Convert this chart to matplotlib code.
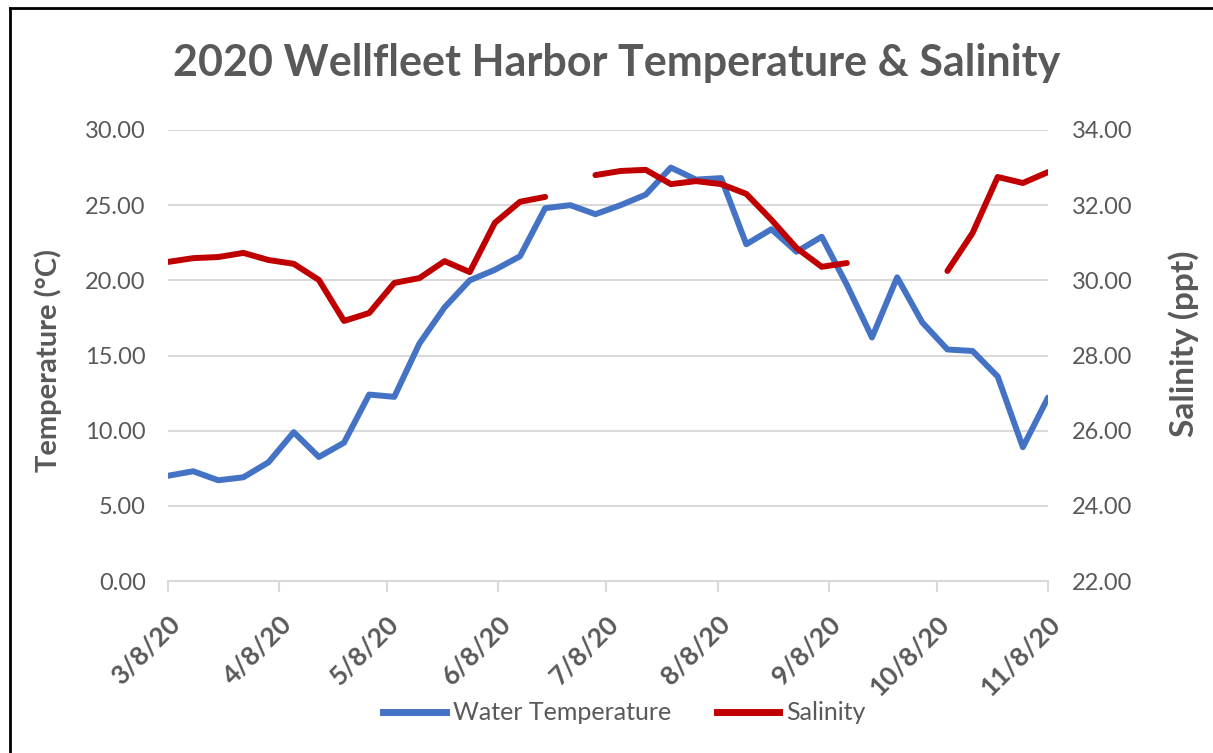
import matplotlib.pyplot as plt
import matplotlib.dates as mdates
from matplotlib.lines import Line2D
from matplotlib.ticker import FormatStrFormatter, MultipleLocator
import matplotlib.transforms as mtransforms
import numpy as np
import pandas as pd

plt.rcParams['font.family'] = ['Lato', 'DejaVu Sans']

dates = pd.date_range('2020-03-08', '2020-11-08', freq='7D')

water_temp = [7.0, 7.3, 6.7, 6.9, 7.9, 9.9, 8.25, 9.2, 12.4, 12.25,
              15.8, 18.2, 20.0, 20.7, 21.6, 24.8, 25.0, 24.4, 25.0, 25.7,
              27.5, 26.7, 26.8, 22.4, 23.4, 21.9, 22.9, 19.7, 16.2, 20.2,
              17.2, 15.4, 15.3, 13.6, 8.9, 12.2]

salinity = [30.49, 30.59, 30.62, 30.73, 30.54, 30.44, 30.01, 28.92, 29.13, 29.93,
            30.06, 30.51, 30.22, 31.53, 32.09, 32.22, np.nan, 32.80, 32.91, 32.94,
            32.56, 32.64, 32.56, 32.30, 31.61, 30.86, 30.36, 30.46, np.nan, np.nan,
            np.nan, 30.25, 31.26, 32.75, 32.59, 32.88]

month_ticks = pd.date_range('2020-03-08', periods=9, freq=pd.DateOffset(months=1))

gray = '#595959'
blue = '#4472C4'
red = '#C00000'

fig = plt.figure(figsize=(12.13, 7.53), dpi=100)
ax = fig.add_axes([168 / 1213, 1 - 581 / 753, 880 / 1213, 451 / 753])
ax2 = ax.twinx()

ax.plot(dates, water_temp, color=blue, lw=4.3, solid_capstyle='round', label='Water Temperature')
ax2.plot(dates, salinity, color=red, lw=4.3, solid_capstyle='round', label='Salinity')

ax.set_xlim(dates[0], dates[-1])
ax.set_ylim(0, 30)
ax2.set_ylim(22, 34)
ax.yaxis.set_major_locator(MultipleLocator(5))
ax2.yaxis.set_major_locator(MultipleLocator(2))
ax.yaxis.set_major_formatter(FormatStrFormatter('%.2f'))
ax2.yaxis.set_major_formatter(FormatStrFormatter('%.2f'))

ax.set_xticks(month_ticks)
ax.xaxis.set_major_formatter(mdates.DateFormatter('%-m/%-d/%y'))
shift = mtransforms.ScaledTranslation(8 / 100, 0, fig.dpi_scale_trans)
for lbl in ax.get_xticklabels():
    lbl.set_rotation(45)
    lbl.set_ha('right')
    lbl.set_rotation_mode('anchor')
    lbl.set_fontweight('bold')
    lbl.set_transform(lbl.get_transform() + shift)

ax.grid(axis='y', color='#d9d9d9', lw=1.5)
ax.set_axisbelow(True)
for a in (ax, ax2):
    for s in a.spines.values():
        s.set_visible(False)
ax.spines['bottom'].set_visible(True)
ax.spines['bottom'].set_color('#d9d9d9')
ax.spines['bottom'].set_linewidth(1.5)

ax.tick_params(axis='x', colors='#d9d9d9', labelcolor=gray, labelsize=19, length=8, width=1.5, pad=14)
ax.tick_params(axis='y', length=0, labelcolor=gray, labelsize=17, pad=16)
ax2.tick_params(axis='y', length=0, labelcolor=gray, labelsize=17, pad=17)

ax.set_ylabel('Temperature (°C)', fontsize=21, fontweight='bold', color=gray)
ax2.set_ylabel('Salinity (ppt)', fontsize=24, fontweight='bold', color=gray)
ax.yaxis.set_label_coords(-106 / 880, (581 - 360) / 451)
ax2.yaxis.set_label_coords(1 + 120 / 880, (581 - 344) / 451)

fig.text(0.508, 1 - 63 / 753, '2020 Wellfleet Harbor Temperature & Salinity',
         ha='center', va='center', fontsize=31, fontweight='bold', color=gray)

handles = [Line2D([], [], color=blue, lw=5), Line2D([], [], color=red, lw=5)]
fig.legend(handles, ['Water Temperature', 'Salinity'], loc='center',
           bbox_to_anchor=(0.515, 1 - 713 / 753), ncol=2, frameon=False,
           fontsize=18, handlelength=2.5, handletextpad=0.3, columnspacing=1.8,
           labelcolor=gray)

# frame of the chart area
fig.add_artist(Line2D([10 / 1213, 10 / 1213], [0, 1 - 8 / 753], color='black', lw=2))
fig.add_artist(Line2D([10 / 1213, 1], [1 - 8 / 753, 1 - 8 / 753], color='black', lw=2))

fig.savefig('out.png', dpi=100)
